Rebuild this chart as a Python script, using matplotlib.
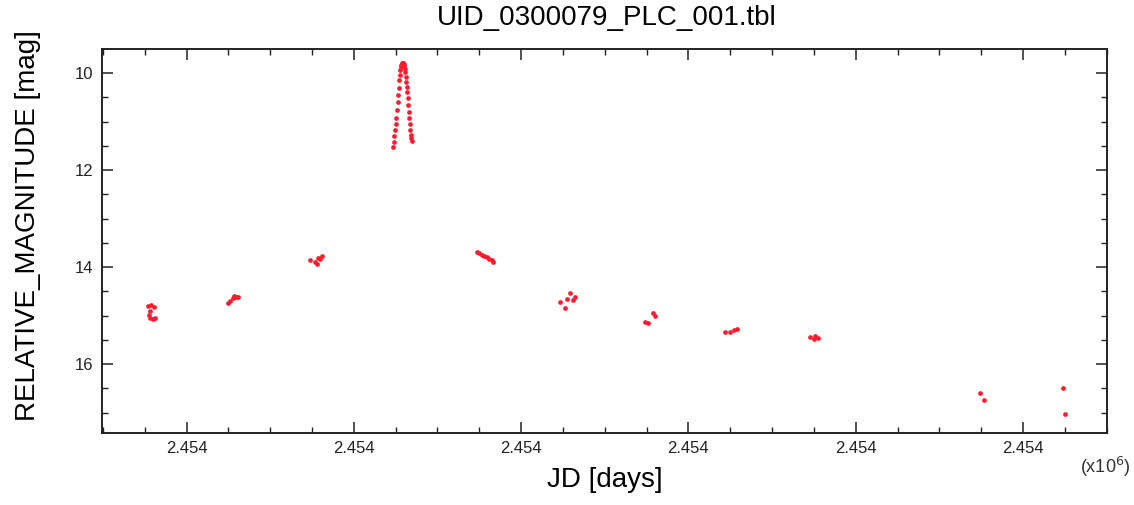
import matplotlib
matplotlib.use('Agg')
import matplotlib.pyplot as plt
from matplotlib.ticker import FixedLocator, FixedFormatter, MultipleLocator

plt.rcParams['font.family'] = ['Liberation Sans', 'DejaVu Sans']

# light curve points (JD, relative magnitude)
jd = [
    # season 1
    2454077.0, 2454079.0, 2454080.5, 2454078.0, 2454077.5, 2454078.0, 2454080.0, 2454081.0,
    # season 2
    2454125.0, 2454126.0, 2454127.5, 2454128.5, 2454129.5, 2454130.5,
    # season 3
    2454173.7, 2454176.7, 2454178.7, 2454180.7, 2454177.7, 2454179.5,
    # outburst
    2454223.4, 2454223.8, 2454224.2, 2454224.6, 2454225.0, 2454225.4, 2454225.8, 2454226.1,
    2454226.4, 2454226.7, 2454227.0, 2454227.3, 2454227.6, 2454227.9, 2454228.2, 2454228.5,
    2454228.8, 2454229.1, 2454229.4, 2454229.7, 2454230.0, 2454230.3, 2454230.6, 2454230.9,
    2454231.2, 2454231.5, 2454231.8, 2454232.1, 2454232.4, 2454232.7, 2454233.0, 2454233.3,
    2454233.6, 2454234.0, 2454234.3, 2454234.6,
    # decline
    2454273.4, 2454275.0, 2454276.4, 2454278.0, 2454279.4, 2454281.0, 2454282.4, 2454283.4,
    2454323.3, 2454326.3, 2454327.3, 2454329.3, 2454332.2, 2454331.2,
    2454374.1, 2454376.1, 2454379.1, 2454380.1,
    2454422.0, 2454425.0, 2454427.0, 2454429.0,
    2454472.8, 2454475.8, 2454477.7, 2454474.8,
    2454576.4, 2454574.5,
    2454623.7, 2454624.9,
]
mag = [
    14.80, 14.78, 14.82, 14.90, 14.98, 15.05, 15.07, 15.05,
    14.75, 14.70, 14.63, 14.60, 14.61, 14.62,
    13.86, 13.89, 13.81, 13.77, 13.94, 13.84,
    11.53, 11.42, 11.30, 11.18, 11.05, 10.92, 10.76, 10.60,
    10.45, 10.30, 10.14, 10.04, 9.94, 9.88, 9.84, 9.81,
    9.79, 9.79, 9.80, 9.82, 9.86, 9.92, 9.98, 10.08,
    10.18, 10.28, 10.39, 10.52, 10.66, 10.80, 10.93, 11.05,
    11.18, 11.28, 11.34, 11.40,
    13.68, 13.72, 13.75, 13.77, 13.79, 13.83, 13.86, 13.89,
    14.72, 14.85, 14.65, 14.54, 14.61, 14.68,
    15.13, 15.16, 14.95, 15.01,
    15.33, 15.33, 15.30, 15.28,
    15.44, 15.42, 15.47, 15.49,
    16.74, 16.60,
    16.50, 17.02,
]

xtick_values = [2454100, 2454200, 2454300, 2454400, 2454500, 2454600]
xtick_labels = ['2.454', '2.454', '2.454', '2.454', '2.454', '2.454']
ytick_values = [10, 12, 14, 16]
ytick_labels = ['10', '12', '14', '16']

fig = plt.figure(figsize=(11.34, 5.05), dpi=100)
ax = fig.add_axes([0.090, 0.1426, 0.8859, 0.7604])

ax.plot(jd, mag, 'o', color='#ff1a2e', markersize=3.4, markeredgewidth=0)

ax.set_xlim(2454049.5, 2454650)
ax.set_ylim(17.42, 9.505)

ax.xaxis.set_major_locator(FixedLocator(xtick_values))
ax.xaxis.set_major_formatter(FixedFormatter(xtick_labels))
ax.xaxis.set_minor_locator(MultipleLocator(25))
ax.yaxis.set_major_locator(FixedLocator(ytick_values))
ax.yaxis.set_major_formatter(FixedFormatter(ytick_labels))
ax.yaxis.set_minor_locator(MultipleLocator(0.5))

ax.tick_params(which='both', direction='in', top=True, right=True, colors='#222222')
ax.tick_params(which='major', length=8, width=1.1, labelsize=12, pad=6)
ax.tick_params(which='minor', length=4, width=1.0)
for s in ax.spines.values():
    s.set_linewidth(1.4)
    s.set_color('#222222')

ax.set_xlabel('JD [days]', fontsize=20, labelpad=8)
ax.set_ylabel('RELATIVE_MAGNITUDE [mag]', fontsize=20)
ax.yaxis.set_label_coords(-0.061, 0.54)
fig.text(0.535, 0.964, 'UID_0300079_PLC_001.tbl', fontsize=20, ha='center', va='center')
fig.text(0.952, 0.075, r'(x10$^6$)', fontsize=13, ha='left', va='center', color='#333333')

fig.savefig('out.png', dpi=100, facecolor='white')
